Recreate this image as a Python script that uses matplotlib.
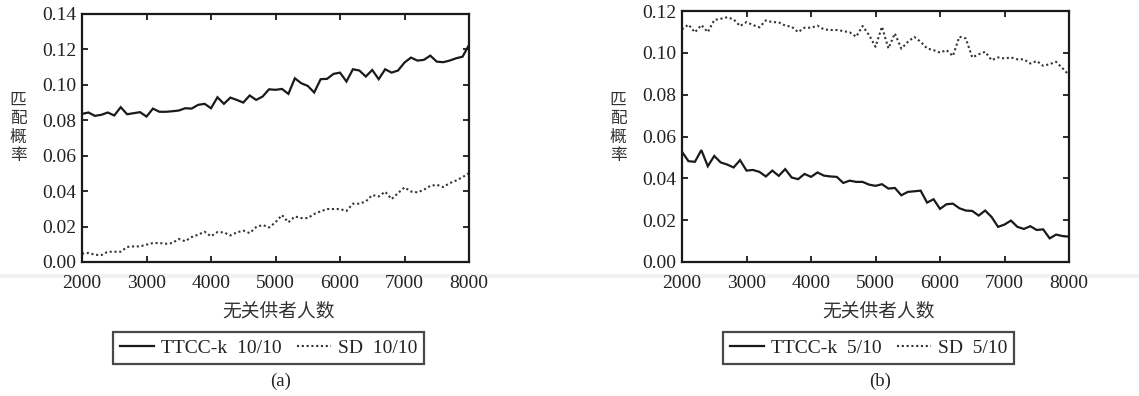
"""Match probability vs. number of unrelated donors, TTCC-k against SD."""

import matplotlib
matplotlib.use("Agg")
import matplotlib.pyplot as plt
from matplotlib.lines import Line2D

W, H = 1139, 396

donors = list(range(2000, 8001, 100))

# panel (a): HLA 10/10
ttcc_a = [
    0.0836, 0.0844, 0.0825, 0.0831, 0.0844, 0.0827, 0.0874, 0.0834, 0.0840, 0.0846,
    0.0821, 0.0866, 0.0848, 0.0848, 0.0851, 0.0855, 0.0868, 0.0866, 0.0887, 0.0893,
    0.0868, 0.0930, 0.0893, 0.0928, 0.0915, 0.0900, 0.0940, 0.0915, 0.0934, 0.0975,
    0.0972, 0.0977, 0.0949, 0.1037, 0.1009, 0.0994, 0.0957, 0.1032, 0.1034, 0.1062,
    0.1069, 0.1019, 0.1088, 0.1081, 0.1047, 0.1084, 0.1032, 0.1088, 0.1069, 0.1081,
    0.1126, 0.1154, 0.1137, 0.1141, 0.1165, 0.1131, 0.1128, 0.1137, 0.1150, 0.1159,
    0.1225,
]
sd_a = [
    0.0047, 0.0051, 0.0041, 0.0039, 0.0058, 0.0058, 0.0058, 0.0085, 0.0088, 0.0088,
    0.0098, 0.0107, 0.0107, 0.0103, 0.0107, 0.0130, 0.0117, 0.0141, 0.0154, 0.0171,
    0.0145, 0.0169, 0.0167, 0.0150, 0.0167, 0.0177, 0.0163, 0.0197, 0.0209, 0.0195,
    0.0224, 0.0265, 0.0224, 0.0257, 0.0248, 0.0248, 0.0271, 0.0286, 0.0299, 0.0299,
    0.0299, 0.0288, 0.0329, 0.0329, 0.0342, 0.0378, 0.0370, 0.0397, 0.0355, 0.0389,
    0.0421, 0.0398, 0.0393, 0.0408, 0.0430, 0.0436, 0.0423, 0.0445, 0.0460, 0.0479,
    0.0502,
]

# panel (b): HLA 5/10
ttcc_b = [
    0.0527, 0.0482, 0.0479, 0.0535, 0.0458, 0.0507, 0.0476, 0.0466, 0.0452, 0.0487,
    0.0437, 0.0440, 0.0431, 0.0409, 0.0437, 0.0412, 0.0444, 0.0404, 0.0396, 0.0421,
    0.0407, 0.0428, 0.0413, 0.0409, 0.0407, 0.0378, 0.0389, 0.0383, 0.0383, 0.0370,
    0.0364, 0.0372, 0.0351, 0.0354, 0.0319, 0.0335, 0.0338, 0.0341, 0.0284, 0.0300,
    0.0254, 0.0276, 0.0279, 0.0257, 0.0246, 0.0244, 0.0222, 0.0246, 0.0215, 0.0168,
    0.0179, 0.0198, 0.0168, 0.0158, 0.0171, 0.0153, 0.0156, 0.0113, 0.0131, 0.0124,
    0.0121,
]
sd_b = [
    0.1112, 0.1135, 0.1098, 0.1133, 0.1099, 0.1157, 0.1163, 0.1170, 0.1160, 0.1128,
    0.1147, 0.1133, 0.1122, 0.1155, 0.1147, 0.1146, 0.1130, 0.1125, 0.1099, 0.1120,
    0.1120, 0.1130, 0.1112, 0.1109, 0.1109, 0.1104, 0.1098, 0.1077, 0.1128, 0.1085,
    0.1029, 0.1125, 0.1021, 0.1093, 0.1020, 0.1052, 0.1076, 0.1053, 0.1021, 0.1013,
    0.1001, 0.1013, 0.0985, 0.1077, 0.1069, 0.0978, 0.0993, 0.1005, 0.0965, 0.0978,
    0.0973, 0.0978, 0.0969, 0.0969, 0.0949, 0.0961, 0.0938, 0.0946, 0.0957, 0.0926,
    0.0894,
]

xticks = [2000, 3000, 4000, 5000, 6000, 7000, 8000]
yticks_a = [0.00, 0.02, 0.04, 0.06, 0.08, 0.10, 0.12, 0.14]
yticks_b = [0.00, 0.02, 0.04, 0.06, 0.08, 0.10, 0.12]

ylabel = "匹\n配\n概\n率"
xlabel = "无关供者人数"

SERIF = "Liberation Serif"
CJK = ["Noto Sans CJK SC", "DejaVu Sans"]
INK = "#1a1a1a"
DOTS = (0, (1, 1.3))


def draw_panel(fig, rect, ttcc, sd, yticks, ylim, labels, caption, label_x):
    """One panel: axes, stacked ylabel, xlabel, boxed legend and caption."""
    ax = fig.add_axes(rect)
    ax.plot(donors, ttcc, color=INK, lw=1.6, solid_joinstyle="miter")
    ax.plot(donors, sd, color="#333333", lw=1.5, linestyle=DOTS)

    ax.set_xlim(2000, 8000)
    ax.set_ylim(*ylim)
    ax.set_xticks(xticks)
    ax.set_yticks(yticks)
    ax.set_yticklabels([f"{v:.2f}" for v in yticks])
    ax.tick_params(direction="in", length=4.5, width=1.3, top=True, right=True,
                   colors=INK, labelsize=14)
    ax.tick_params(axis="x", pad=9)
    ax.tick_params(axis="y", pad=4)
    for lab in ax.get_xticklabels() + ax.get_yticklabels():
        lab.set_fontfamily(SERIF)
        lab.set_color("#222222")
    for sp in ax.spines.values():
        sp.set_linewidth(1.6)
        sp.set_color(INK)

    left, bottom, width, height = rect
    cx = left + width / 2

    fig.text(label_x / W, 1 - 128 / H, ylabel, ha="center", va="center",
             family=CJK, fontsize=12, color="#333333", linespacing=1.12)
    fig.text(cx + 3 / W, 1 - 311 / H, xlabel, ha="center", va="center",
             family=CJK, fontsize=13.5, color="#333333")

    handles = [
        Line2D([], [], color=INK, lw=1.6),
        Line2D([], [], color="#333333", lw=1.5, linestyle=DOTS),
    ]
    leg = fig.legend(handles, labels, loc="center",
                     bbox_to_anchor=(cx - 7 / W, 1 - 348 / H), ncol=2,
                     frameon=True, fancybox=False, handlelength=1.75,
                     handletextpad=0.35, columnspacing=0.8, borderpad=0.35,
                     prop={"family": SERIF, "size": 14})
    leg.get_frame().set_edgecolor(INK)
    leg.get_frame().set_linewidth(1.6)
    for t in leg.get_texts():
        t.set_color("#222222")

    fig.text(cx + 5 / W, 1 - 381 / H, caption, ha="center", va="center",
             family=SERIF, fontsize=13.5, color="#222222")
    return ax


fig = plt.figure(figsize=(W / 100, H / 100), dpi=100)

# faint scan band behind the x tick labels
fig.add_artist(Line2D([0, 1], [1 - 276 / H] * 2, transform=fig.transFigure,
                      color="#f1f1f1", lw=3, zorder=0))

draw_panel(fig, [82 / W, 1 - 262 / H, 387 / W, 248 / H], ttcc_a, sd_a,
           yticks_a, (0, 0.14), ["TTCC-k  10/10", "SD  10/10"], "(a)", 18)
draw_panel(fig, [682 / W, 1 - 262 / H, 387 / W, 251 / H], ttcc_b, sd_b,
           yticks_b, (0, 0.12), ["TTCC-k  5/10", "SD  5/10"], "(b)", 618)

fig.savefig("out.png", dpi=100)
